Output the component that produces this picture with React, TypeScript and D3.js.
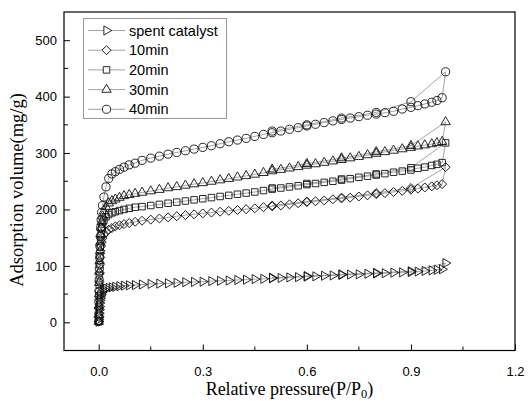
import React, { useEffect, useRef } from "react";
import * as d3 from "d3";

const seriesNames = ["spent catalyst", "10min", "20min", "30min", "40min"];

// relative pressure of the adsorption branch
const adsP = [
  0.0001, 0.0003, 0.0006, 0.001, 0.0015, 0.002, 0.0027, 0.0035, 0.0045, 0.0057, 0.007,
  0.0085, 0.011, 0.015, 0.021, 0.029, 0.038, 0.048, 0.06, 0.073, 0.088, 0.105,
  0.125, 0.15, 0.175, 0.2, 0.225, 0.25, 0.275, 0.3, 0.325, 0.35, 0.375, 0.4, 0.425,
  0.45, 0.475, 0.5, 0.525, 0.55, 0.575, 0.6, 0.625, 0.65, 0.675, 0.7, 0.725, 0.75,
  0.775, 0.8, 0.825, 0.85, 0.875, 0.9, 0.92, 0.94, 0.96, 0.975, 0.99,
];
// relative pressure of the desorption branch
const desP = [1.0, 0.9, 0.8, 0.7, 0.6, 0.5];

const spentAds = [
  1, 5, 10, 16, 22, 28, 34, 39, 43, 47, 50, 53, 56, 58, 60, 61, 62, 63, 64, 65, 65.5, 66,
  67, 68, 68.5, 69, 70, 71, 71.5, 72, 73, 73.5, 74, 75, 75.5, 76.5, 77, 78, 78.5, 79.5,
  80, 81, 81.5, 82.5, 83, 84, 84.5, 85, 86, 86.5, 87, 88, 88.5, 89, 90, 91, 92, 93, 94,
];
const spentDes = [105, 90.5, 87.5, 85, 82, 79];

const min10Ads = [
  1, 10, 24, 40, 56, 72, 88, 102, 115, 126, 135, 142, 149, 155, 160, 164, 167, 170, 172,
  174, 176, 178, 180, 182, 184, 186, 188, 190, 191.5, 193, 194.5, 196, 197.5, 199, 200.5,
  202, 204, 205.5, 207, 209, 211, 213, 214.5, 216, 218, 219.5, 221, 223, 225, 227, 229,
  231, 233, 235, 237, 239, 241, 243, 245,
];
const min10Des = [275, 238, 229, 221, 214, 207];

const min20Ads = [
  1, 12, 28, 47, 66, 84, 102, 118, 133, 146, 157, 166, 174, 181, 187, 191, 194, 196, 198,
  200, 202, 204, 205, 207, 209, 211, 213, 215, 217, 219, 221, 223, 225, 227, 229, 231,
  233.5, 236, 238, 240, 242, 244, 246, 248, 250, 252, 254.5, 257, 259, 261, 263.5, 266,
  268, 270, 273, 275, 278, 280, 283,
];
const min20Des = [318, 274, 263, 254, 246, 238];

const min30Ads = [
  1, 13, 30, 50, 70, 90, 109, 126, 142, 156, 168, 178, 188, 197, 205, 211, 215, 218, 221,
  224, 226, 228, 230, 232.5, 235, 238, 240, 242.5, 245, 247, 249.5, 252, 254.5, 257,
  259.5, 262, 265, 268, 270.5, 273, 275.5, 278, 280.5, 283, 285.5, 288, 291, 293.5,
  296.5, 299, 302, 304.5, 307, 309.5, 312, 314, 316, 318, 320,
];
const min30Des = [355, 313, 302, 291, 281, 271];

const min40Ads = [
  2, 15, 35, 55, 75, 95, 115, 135, 152, 168, 182, 195, 207, 222, 240, 255, 263, 267, 271,
  275, 279, 282, 287, 291, 294.5, 298, 301, 304, 307, 310, 313, 316.5, 320, 323, 326,
  329.5, 333, 336, 339, 342, 345, 348, 351, 354, 357, 359.5, 362, 364.5, 367, 369, 371.5,
  374, 378, 381, 384, 387, 390, 393, 398,
];
const min40Des = [444, 391, 372, 362, 350, 339];

const adsValues = [spentAds, min10Ads, min20Ads, min30Ads, min40Ads];
const desValues = [spentDes, min10Des, min20Des, min30Des, min40Des];

const xTicks = [0, 0.3, 0.6, 0.9, 1.2];
const xMinor = [0.15, 0.45, 0.75, 1.05];
const yTicks = [0, 100, 200, 300, 400, 500];
const yMinor = [50, 150, 250, 350, 450];

const sansFont = "'Liberation Sans', Arial, sans-serif";
const serifFont = "'Liberation Serif', 'Times New Roman', serif";

// marker shape for each series
const markerPath = (i: number) => {
  if (i === 0) return d3.symbol().type(d3.symbolTriangle).size(36)();
  if (i === 1) return d3.symbol().type(d3.symbolSquare).size(40)();
  if (i === 2) return d3.symbol().type(d3.symbolSquare).size(42)();
  if (i === 3) return d3.symbol().type(d3.symbolTriangle).size(38)();
  return d3.symbol().type(d3.symbolCircle).size(52)();
};
const markerRotate = (i: number) => (i === 0 ? 90 : i === 1 ? 45 : 0);

const App = () => {
  const chartRef = useRef<SVGSVGElement>(null);

  useEffect(() => {
    const svg = d3.select(chartRef.current);
    svg.selectAll("*").remove();

    const left = 64,
      right = 515,
      top = 12,
      bottom = 350.5;

    const x = d3.scaleLinear().domain([-0.1, 1.2]).range([left, right]);
    const y = d3.scaleLinear().domain([-50, 550]).range([bottom, top]);

    // x axis
    const gx = svg
      .append("g")
      .attr("transform", `translate(0,${bottom})`)
      .call(
        d3
          .axisBottom(x)
          .tickValues(xTicks)
          .tickSize(-6)
          .tickSizeOuter(0)
          .tickPadding(16)
          .tickFormat(d3.format(".1f"))
      );
    gx.select(".domain").remove();
    gx.selectAll("text").attr("font-family", sansFont).attr("font-size", 13).attr("fill", "#000");

    svg
      .append("g")
      .selectAll("line")
      .data(xMinor)
      .join("line")
      .attr("x1", (d) => x(d))
      .attr("x2", (d) => x(d))
      .attr("y1", bottom)
      .attr("y2", bottom - 4)
      .attr("stroke", "#000");

    // y axis
    const gy = svg
      .append("g")
      .attr("transform", `translate(${left},0)`)
      .call(d3.axisLeft(y).tickValues(yTicks).tickSize(-6).tickSizeOuter(0).tickPadding(7));
    gy.select(".domain").remove();
    gy.selectAll("text").attr("font-family", sansFont).attr("font-size", 13).attr("fill", "#000");

    svg
      .append("g")
      .selectAll("line")
      .data(yMinor)
      .join("line")
      .attr("x1", left)
      .attr("x2", left + 4)
      .attr("y1", (d) => y(d))
      .attr("y2", (d) => y(d))
      .attr("stroke", "#000");

    // frame
    svg
      .append("rect")
      .attr("x", left)
      .attr("y", top)
      .attr("width", right - left)
      .attr("height", bottom - top)
      .attr("fill", "none")
      .attr("stroke", "#000")
      .attr("stroke-width", 1.2);

    const line = d3
      .line<[number, number]>()
      .x((d) => x(d[0]))
      .y((d) => y(d[1]));

    seriesNames.forEach((name, i) => {
      const pts: [number, number][] = [
        ...adsP.map((p, k) => [p, adsValues[i][k]] as [number, number]),
        ...desP.map((p, k) => [p, desValues[i][k]] as [number, number]),
      ];
      const g = svg.append("g").attr("class", "series");
      g.append("path")
        .attr("d", line(pts))
        .attr("fill", "none")
        .attr("stroke", "#8c8c8c")
        .attr("stroke-width", 0.8);
      g.selectAll("path.m")
        .data(pts)
        .join("path")
        .attr("class", "m")
        .attr("d", markerPath(i))
        .attr("transform", (d) => `translate(${x(d[0])},${y(d[1])}) rotate(${markerRotate(i)})`)
        .attr("fill", "none")
        .attr("stroke", "#111")
        .attr("stroke-width", 0.9);
    });

    // legend
    const lg = svg.append("g");
    lg.append("rect")
      .attr("x", 83.5)
      .attr("y", 18.5)
      .attr("width", 143)
      .attr("height", 100)
      .attr("fill", "#fff")
      .attr("stroke", "#999");
    seriesNames.forEach((name, i) => {
      const cy = 30.5 + i * 19.7;
      lg.append("line")
        .attr("x1", 88)
        .attr("x2", 125)
        .attr("y1", cy)
        .attr("y2", cy)
        .attr("stroke", "#8c8c8c")
        .attr("stroke-width", 0.8);
      lg.append("path")
        .attr("d", markerPath(i))
        .attr("transform", `translate(106.5,${cy}) rotate(${markerRotate(i)})`)
        .attr("fill", "#fff")
        .attr("stroke", "#111")
        .attr("stroke-width", 0.9);
      lg.append("text")
        .attr("x", 129)
        .attr("y", cy + 5)
        .attr("font-family", sansFont)
        .attr("font-size", 14.5)
        .text(name);
    });

    // axis titles
    const xt = svg
      .append("text")
      .attr("x", (left + right) / 2)
      .attr("y", 395)
      .attr("text-anchor", "middle")
      .attr("font-family", serifFont)
      .attr("font-size", 18);
    xt.append("tspan").text("Relative pressure(P/P");
    xt.append("tspan").attr("font-size", 12.5).attr("dy", 2.5).text("0");
    xt.append("tspan").attr("dy", -2.5).text(")");

    svg
      .append("text")
      .attr("transform", `translate(23,190) rotate(-90)`)
      .attr("text-anchor", "middle")
      .attr("font-family", serifFont)
      .attr("font-size", 18.5)
      .text("Adsorption volume(mg/g)");
  }, []);

  return (
    <svg
      ref={chartRef}
      width={528}
      height={401}
      style={{ position: "absolute", left: 0, top: 0, background: "#fff" }}
    ></svg>
  );
};

export default App;
